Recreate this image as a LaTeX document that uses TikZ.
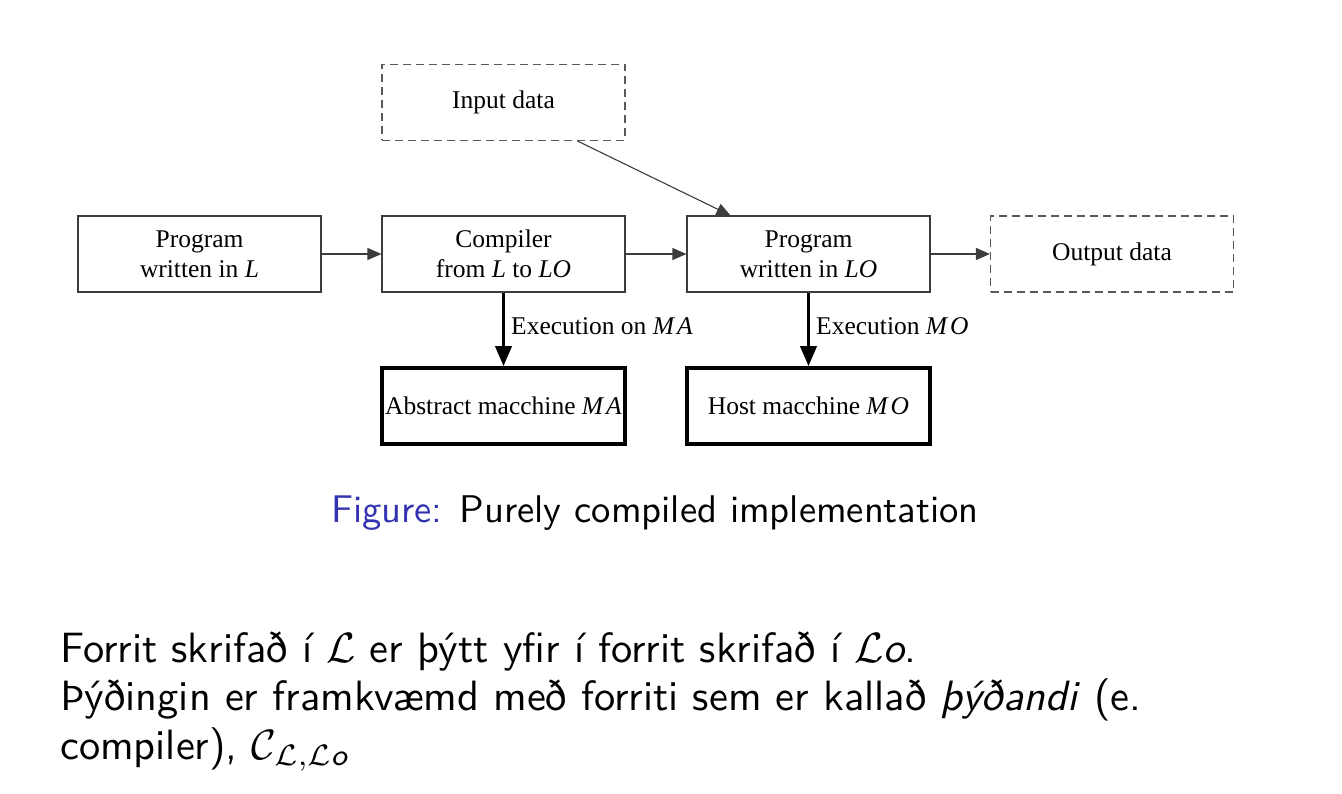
\documentclass[tikz,border=0pt]{standalone}
\usepackage{amsmath}
\usepackage{fontspec}
\newfontfamily\diag{Liberation Serif}
\usetikzlibrary{arrows.meta}
\definecolor{beamerblue}{RGB}{51,51,178}
\definecolor{edgegray}{RGB}{60,60,60}
\newcommand{\diagfont}{\diag\fontsize{25.5}{30}\selectfont}
\newcommand{\bodytext}[1]{\scalebox{4.24}{\sffamily\fontsize{10}{12}\selectfont #1}}
\newcommand{\captext}[1]{\scalebox{3.86}{\sffamily\fontsize{10}{12}\selectfont #1}}
\tikzset{
  box/.style={draw=edgegray, line width=1.1pt, minimum width=243pt, minimum height=76pt, inner sep=0pt, align=center, font=\diagfont},
  dbox/.style={box, draw=edgegray!85, dash pattern=on 8pt off 5pt},
  tbox/.style={box, draw=black, line width=3.6pt},
  thinarrow/.style={draw=edgegray, line width=1.1pt, -{Triangle[length=14pt,width=12pt]}},
  thickarrow/.style={draw=black, line width=3.6pt, -{Triangle[length=20pt,width=16pt]}},
  elabel/.style={font=\diagfont, anchor=west, inner sep=0pt},
  body/.style={anchor=base west, inner sep=0pt}
}
\begin{document}
\begin{tikzpicture}[x=1pt,y=-1pt]
\path[use as bounding box] (0,0) rectangle (1342,794);
\node[dbox] (in) at (503.5,102.5) {Input data};
\node[box] (p1) at (199.5,254) {Program\\written in \textit{L}};
\node[box] (comp) at (503.5,254) {Compiler\\from \textit{L} to \textit{LO}};
\node[box] (p2) at (808.5,254) {Program\\written in \textit{LO}};
\node[dbox] (out) at (1112,254) {Output data};
\node[tbox] (ma) at (503.5,406) {Abstract macchine \textit{M\kern3pt A}};
\node[tbox] (mo) at (808.5,406) {Host macchine \textit{M\kern3pt O}};
\draw[thinarrow] (p1) -- (comp);
\draw[thinarrow] (comp) -- (p2);
\draw[thinarrow] (p2) -- (out);
\draw[thinarrow] ([xshift=74pt]in.south) -- ([xshift=-78pt]p2.north);
\draw[thickarrow] (comp) -- (ma);
\draw[thickarrow] (p2) -- (mo);
\node[elabel] (lma) at (511,326) {Execution on \textit{M\kern3pt A}};
\node[elabel] (lmo) at (816,326) {Execution \textit{M\kern3pt O}};
\node[anchor=base, inner sep=0pt] (cap) at (655,522) {\captext{\textcolor{beamerblue}{Figure:} Purely compiled implementation}};
\node[body] (t1) at (60,662) {\bodytext{Forrit skrifað í $\mathcal{L}$ er þýtt yfir í forrit skrifað í $\mathcal{L}$\textit{o}.}};
\node[body] (t2) at (60,710.5) {\bodytext{Þýðingin er framkvæmd með forriti sem er kallað \textit{þýðandi} (e.}};
\node[body] (t3) at (60,759) {\bodytext{compiler), $\mathcal{C}_{\mathcal{L},\mathcal{L}\text{\itshape o}}$}};
\end{tikzpicture}
\end{document}
